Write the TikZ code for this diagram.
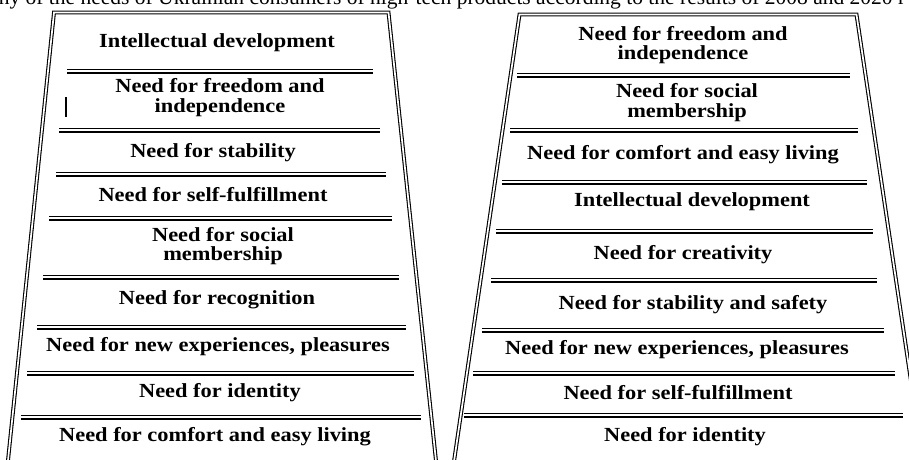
\documentclass[tikz,border=0pt]{standalone}
\usepackage{fontspec}
\setmainfont{Liberation Serif}
\newfontfamily\levelfont{Liberation Serif}[FakeStretch=1.12]
\begin{document}
\begin{tikzpicture}[x=1pt,y=-1pt,
  frame/.style={draw, line width=1.1pt, double, double distance=1.7pt, line join=miter},
  thinrule/.style={line width=1.3pt},
  thickrule/.style={line width=2pt},
  level/.style={align=center, inner sep=0pt,
    font=\levelfont\bfseries\fontsize{20}{19.5}\selectfont},
  caption/.style={inner sep=0pt, anchor=base, font=\fontsize{21.5}{22}\selectfont}]
\clip (0,0) rectangle (909,459);
\useasboundingbox (0,0) rectangle (909,459);

% caption line running across the top edge
\node[caption] (cap) at (452,4) {hy of the needs of Ukrainian consumers of high-tech products according to the results of 2008 and 2020 r};

% the two trapezoid frames, open at the bottom
\draw[frame] (6.5,475) -- (54,12.5) -- (388.5,12.5) -- (437.5,475);
\draw[frame] (452,475) -- (519.5,14.5) -- (856.5,14.5) -- (925,475);

% double dividers: thin rule above, thick rule below
\newcommand{\divider}[3]{%
  \draw[thinrule] (#1,#3) -- (#2,#3);
  \draw[thickrule] (#1,{#3+3.6}) -- (#2,{#3+3.6});}

% left column
\divider{67}{373}{69.5}
\divider{59}{380}{128.5}
\divider{56}{386}{172.5}
\divider{49}{392}{216.5}
\divider{43}{399}{275.5}
\divider{37}{406}{325.5}
\divider{27}{414}{371.5}
\divider{21}{421}{415.5}
\draw[line width=1.4pt] (66,97) -- (66,117);

\node[level] (l1) at (217,43) {Intellectual development};
\node[level] (l2) at (220,97.5) {Need for freedom and\\independence};
\node[level] (l3) at (213,153) {Need for stability};
\node[level] (l4) at (213,195) {Need for self-fulfillment};
\node[level] (l5) at (223,246) {Need for social\\membership};
\node[level] (l6) at (217,300) {Need for recognition};
\node[level] (l7) at (218,347) {Need for new experiences, pleasures};
\node[level] (l8) at (220,393) {Need for identity};
\node[level] (l9) at (215,437) {Need for comfort and easy living};

% right column
\divider{517}{850}{73.5}
\divider{510}{858}{128.5}
\divider{502}{867}{180.5}
\divider{496}{873}{229.5}
\divider{491}{877}{278.5}
\divider{482}{884}{328.5}
\divider{473}{895}{371.5}
\divider{464}{903}{413.5}

\node[level] (r1) at (683,45) {Need for freedom and\\independence};
\node[level] (r2) at (687,102.5) {Need for social\\membership};
\node[level] (r3) at (683,155) {Need for comfort and easy living};
\node[level] (r4) at (692,202) {Intellectual development};
\node[level] (r5) at (683,255) {Need for creativity};
\node[level] (r6) at (693,305) {Need for stability and safety};
\node[level] (r7) at (677,350) {Need for new experiences, pleasures};
\node[level] (r8) at (678,393) {Need for self-fulfillment};
\node[level] (r9) at (685,437) {Need for identity};
\end{tikzpicture}
\end{document}
